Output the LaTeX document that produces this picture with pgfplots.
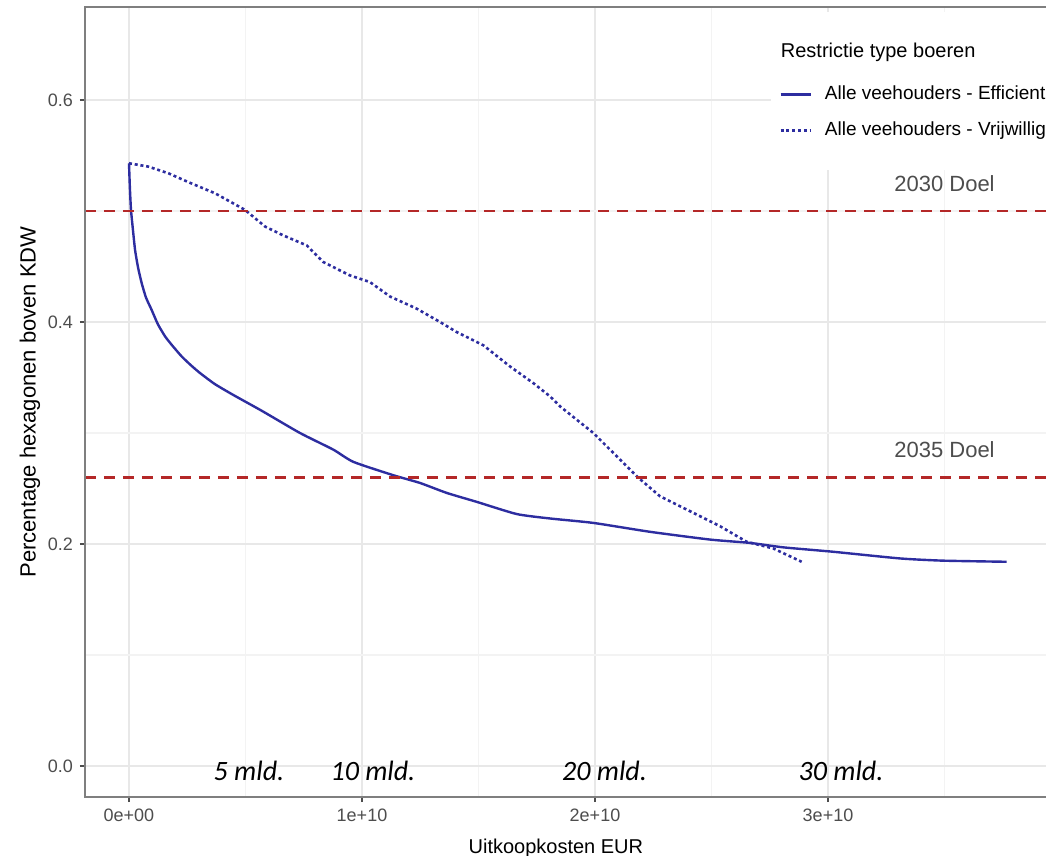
\documentclass[border=0pt]{standalone}
\usepackage{pgfplots}
\pgfplotsset{compat=1.18}
\usepackage{fontspec}
\setmainfont{Liberation Sans}
\newfontfamily\carlito{Carlito}
\definecolor{lineblue}{RGB}{45,45,160}
\definecolor{doelred}{RGB}{180,40,40}
\definecolor{gridmajor}{RGB}{232,232,232}
\definecolor{gridminor}{RGB}{243,243,243}
\definecolor{tickgrey}{RGB}{77,77,77}
\definecolor{bordergrey}{RGB}{127,127,127}
\begin{document}
\begin{tikzpicture}
\begin{axis}[
  scale only axis, width=480.5pt, height=395pt,
  xmin=-0.18884, xmax=3.93562, ymin=-0.027928, ymax=0.683784,
  clip=false,
  axis line style={draw=none},
  xtick={0,1,2,3}, xticklabels={0e+00,1e+10,2e+10,3e+10},
  ytick={0,0.2,0.4,0.6}, yticklabels={0.0,0.2,0.4,0.6},
  minor xtick={0.5,1.5,2.5,3.5}, minor ytick={0.1,0.3,0.5},
  grid=both,
  major grid style={gridmajor, line width=1pt},
  minor grid style={gridminor, line width=0.6pt},
  tick pos=left, tick align=outside,
  major tick length=2.5pt, minor tick length=0pt,
  tick style={tickgrey, line width=0.6pt},
  /pgf/number format/assume math mode=true,
  ticklabel style={font=\fontsize{9}{10}\selectfont, text=tickgrey},
  xlabel={Uitkoopkosten EUR},
  xlabel style={font=\fontsize{10}{12}\selectfont, at={(axis description cs:0.49,0)}, anchor=north, yshift=-17.5pt},
  ylabel={Percentage hexagonen boven KDW},
  ylabel style={font=\fontsize{11}{13}\selectfont, at={(axis description cs:-0.0572,0.5)}, anchor=center},
  legend style={at={(axis cs:2.755,0.6793)}, anchor=north west, fill=white, draw=none,
    inner xsep=4pt, inner ysep=15.5pt, font=\fontsize{9.5}{11}\selectfont,
    row sep=9pt, nodes={inner sep=0pt, text height=7pt, text depth=2pt},
    /tikz/every odd column/.append style={column sep=6.5pt}},
  legend cell align=left,
  legend image code/.code={\draw[#1] (0pt,0pt) -- (15pt,0pt);},
]
\addlegendimage{empty legend}
\addlegendentry[font=\fontsize{10}{12}\selectfont, text depth=5pt]{\hspace*{-22pt}Restrictie type boeren}

\addplot[lineblue, line width=1.2pt, smooth, tension=0.35] coordinates {
(0,0.543) (0.004,0.520) (0.0086,0.501) (0.016,0.485) (0.026,0.465) (0.039,0.449)
(0.0545,0.435) (0.073,0.422) (0.097,0.411) (0.124,0.398) (0.155,0.387) (0.185,0.379)
(0.226,0.369) (0.266,0.361) (0.305,0.354) (0.369,0.344) (0.45,0.334) (0.57,0.320)
(0.734,0.300) (0.877,0.285) (0.963,0.274) (1.134,0.262) (1.249,0.255) (1.364,0.246)
(1.492,0.238) (1.664,0.227) (1.807,0.223) (1.993,0.219) (2.236,0.211) (2.494,0.204)
(2.665,0.201) (2.808,0.197) (3.023,0.193) (3.309,0.187) (3.495,0.185) (3.767,0.184)
};
\addlegendentry{Alle veehouders - Efficient}

\addplot[lineblue, line width=1.3pt, dash pattern=on 1.5pt off 1.4pt] coordinates {
(0,0.543) (0.083,0.540) (0.169,0.534) (0.255,0.526) (0.369,0.516) (0.498,0.501)
(0.584,0.486) (0.662,0.478) (0.763,0.469) (0.834,0.454) (0.948,0.442) (1.034,0.436)
(1.120,0.423) (1.235,0.412) (1.335,0.400) (1.406,0.391) (1.521,0.379) (1.635,0.360)
(1.735,0.345) (1.807,0.333) (1.85,0.324) (1.993,0.300) (2.079,0.282) (2.179,0.261)
(2.279,0.243) (2.394,0.231) (2.537,0.216) (2.651,0.202) (2.765,0.196) (2.887,0.184)
};
\addlegendentry{Alle veehouders - Vrijwillig}

\addplot[doelred, line width=1.3pt, dash pattern=on 5.5pt off 4pt, forget plot] coordinates {(-0.18884,0.5) (3.93562,0.5)};
\addplot[doelred, line width=1.3pt, dash pattern=on 5.5pt off 4pt, forget plot] coordinates {(-0.18884,0.26) (3.93562,0.26)};

\node[text=tickgrey, font=\fontsize{11}{13}\selectfont] at (axis cs:3.5,0.525) {2030 Doel};
\node[text=tickgrey, font=\fontsize{11}{13}\selectfont] at (axis cs:3.5,0.285) {2035 Doel};

\node[font=\carlito\itshape\fontsize{14}{16}\selectfont] at (axis cs:0.515,-0.0045) {5 mld.};
\node[font=\carlito\itshape\fontsize{14}{16}\selectfont] at (axis cs:1.047,-0.0045) {10 mld.};
\node[font=\carlito\itshape\fontsize{14}{16}\selectfont] at (axis cs:2.041,-0.0045) {20 mld.};
\node[font=\carlito\itshape\fontsize{14}{16}\selectfont] at (axis cs:3.056,-0.0045) {30 mld.};

\draw[bordergrey, line width=1pt] (rel axis cs:1.1,1) -- (rel axis cs:0,1) -- (rel axis cs:0,0) -- (rel axis cs:1.1,0);

\coordinate (bbsw) at (axis cs:-0.5536,-0.08018);
\coordinate (bbne) at (axis cs:3.93562,0.69009);
\end{axis}
\pgfresetboundingbox
\path[use as bounding box] (bbsw) rectangle (bbne);
\end{tikzpicture}
\end{document}
